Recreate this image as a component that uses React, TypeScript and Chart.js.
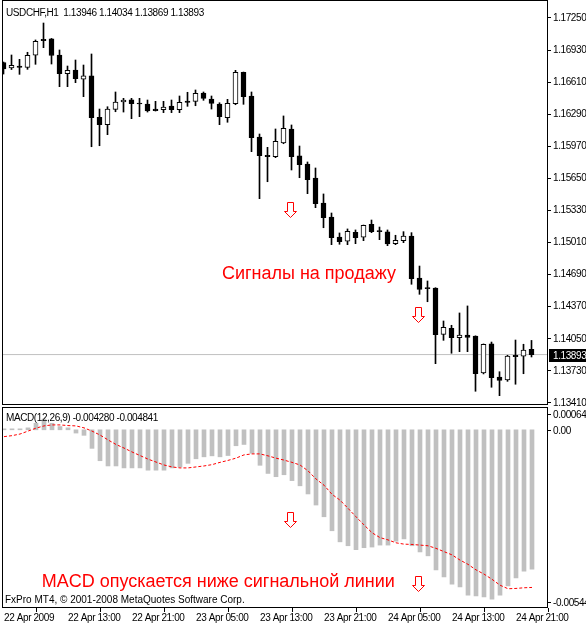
import React, { useEffect, useRef } from 'react';
import { Chart, registerables } from 'chart.js';

Chart.register(...registerables);

// ---------- DATA ----------
const symbolTitle = 'USDCHF,H1  1.13946 1.14034 1.13869 1.13893';
const macdTitle = 'MACD(12,26,9) -0.004280 -0.004841';
const copyright = 'FxPro MT4, \u00a9 2001-2008 MetaQuotes Software Corp.';
const sellText = 'Сигналы на продажу';
const macdText = 'MACD опускается ниже сигнальной линии';

const opens = [1.16806,1.16751,1.16771,1.16758,1.16878,1.17038,1.17041,1.16881,1.16694,1.16731,1.16639,1.16672,1.16260,1.16186,1.16339,1.16412,1.16435,1.16399,1.16392,1.16342,1.16335,1.16372,1.16335,1.16422,1.16419,1.16502,1.16442,1.16392,1.16256,1.16395,1.16708,1.16472,1.16063,1.15881,1.15867,1.16003,1.16143,1.15874,1.15794,1.15654,1.15405,1.15265,1.15066,1.15023,1.15113,1.15063,1.15192,1.15129,1.15116,1.14999,1.15029,1.15076,1.14657,1.14557,1.14557,1.14095,1.14155,1.14061,1.14088,1.14078,1.13709,1.13999,1.13669,1.13639,1.13886,1.13876,1.13946];
const highs = [1.16811,1.16881,1.16838,1.16908,1.17031,1.17200,1.17046,1.16931,1.16771,1.16831,1.16781,1.16891,1.16342,1.16365,1.16512,1.16449,1.16449,1.16449,1.16432,1.16419,1.16419,1.16432,1.16472,1.16509,1.16532,1.16512,1.16472,1.16405,1.16439,1.16728,1.16711,1.16512,1.16093,1.15960,1.16143,1.16273,1.16183,1.15973,1.15814,1.15754,1.15495,1.15305,1.15106,1.15146,1.15136,1.15185,1.15235,1.15165,1.15136,1.15083,1.15119,1.15109,1.14776,1.14627,1.14560,1.14228,1.14185,1.14308,1.14378,1.14080,1.13999,1.14018,1.13722,1.13886,1.14038,1.13996,1.14034];
const lows = [1.16691,1.16736,1.16688,1.16738,1.16788,1.16954,1.16791,1.16565,1.16565,1.16605,1.16465,1.15966,1.15976,1.16086,1.16315,1.16312,1.16246,1.16266,1.16312,1.16322,1.16306,1.16306,1.16306,1.16369,1.16375,1.16429,1.16342,1.16186,1.16210,1.16385,1.16389,1.15917,1.15448,1.15617,1.15857,1.15996,1.15734,1.15657,1.15498,1.15358,1.15158,1.14989,1.14993,1.14989,1.14999,1.15029,1.15109,1.15039,1.14979,1.14989,1.15009,1.14594,1.14494,1.14420,1.13802,1.14035,1.13906,1.13922,1.13922,1.13527,1.13700,1.13567,1.13483,1.13626,1.13597,1.13702,1.13869];
const closes = [1.16741,1.16778,1.16758,1.16878,1.17018,1.17024,1.16876,1.16694,1.16728,1.16645,1.16672,1.16256,1.16186,1.16342,1.16412,1.16432,1.16395,1.16392,1.16322,1.16325,1.16362,1.16335,1.16409,1.16409,1.16499,1.16449,1.16399,1.16266,1.16399,1.16708,1.16465,1.16056,1.15877,1.15867,1.16020,1.16150,1.15867,1.15787,1.15637,1.15398,1.15258,1.15059,1.15019,1.15123,1.15059,1.15182,1.15119,1.15119,1.14996,1.15033,1.15076,1.14650,1.14544,1.14550,1.14091,1.14165,1.14061,1.14088,1.14065,1.13702,1.13996,1.13662,1.13636,1.13879,1.13872,1.13939,1.13893];

const macdMain = [0.00003,0.00003,0.00003,0.00006,0.0002,0.00033,0.0002,0.0001,0.00006,-0.0001,-0.00017,-0.00057,-0.00095,-0.00111,-0.00111,-0.00117,-0.00117,-0.00117,-0.00124,-0.00124,-0.00124,-0.00117,-0.00114,-0.00103,-0.00089,-0.00083,-0.0008,-0.00083,-0.00079,-0.00049,-0.00045,-0.00072,-0.00109,-0.00134,-0.00144,-0.00138,-0.00156,-0.00172,-0.00197,-0.00231,-0.00267,-0.0031,-0.00344,-0.00356,-0.00368,-0.00362,-0.0036,-0.00354,-0.00354,-0.00342,-0.00335,-0.00356,-0.00375,-0.00387,-0.0043,-0.00452,-0.00474,-0.00482,-0.00508,-0.0051,-0.00513,-0.0052,-0.00508,-0.00479,-0.00455,-0.00434,-0.00428];
const macdSignal = [-0.00021,-0.00018,-0.00013,-0.00004,0.00005,0.00012,0.00015,0.00015,0.00013,0.00012,0.00006,-0.00004,-0.00016,-0.00031,-0.00045,-0.00056,-0.00068,-0.00079,-0.0009,-0.00099,-0.00108,-0.00114,-0.00117,-0.00117,-0.00114,-0.00111,-0.00107,-0.001,-0.00094,-0.00087,-0.00077,-0.00074,-0.00074,-0.0008,-0.00087,-0.00093,-0.001,-0.00108,-0.00126,-0.00151,-0.0017,-0.00198,-0.00216,-0.00241,-0.00267,-0.00292,-0.00316,-0.00331,-0.00338,-0.00347,-0.00351,-0.00352,-0.00354,-0.00356,-0.00364,-0.00374,-0.00384,-0.004,-0.00413,-0.0043,-0.00443,-0.00459,-0.00477,-0.00488,-0.00487,-0.00485,-0.00484];

const priceTicks = [1.13410,1.13730,1.14050,1.14370,1.14690,1.15010,1.15330,1.15650,1.15970,1.16290,1.16610,1.16930,1.17250];
const macdTickValues = [0.00064, 0, -0.00544];
const macdTickLabels = ['0.000640', '0.00', '-0.005440'];
const timeTickBars = [0, 8, 16, 24, 32, 40, 48, 56, 64];
const timeLabels = ['22 Apr 2009','22 Apr 13:00','22 Apr 21:00','23 Apr 05:00','23 Apr 13:00','23 Apr 21:00','24 Apr 05:00','24 Apr 13:00','24 Apr 21:00'];

const arrowBars = [35.8, 51.8];
const arrowPriceTops = [1.15418, 1.14365];
const arrowMacdTops = [-0.00251, -0.00448];
const sellTextBar = 27.3;
const sellTextPrice = 1.14647;
const macdTextBar = 4.71;
const macdTextValue = -0.00482;

// ---------- STYLE ----------
const FONT = "'Liberation Sans', Arial, sans-serif";
const RED_FONT = "18px 'Liberation Sans', Arial, sans-serif";
const SMALL = `10px ${FONT}`;
const TIGHT = '-0.4px';

const spacingPlugin = {
  id: 'tightText',
  beforeInit(chart: any) { chart.ctx.letterSpacing = TIGHT; },
  beforeUpdate(chart: any) { chart.ctx.letterSpacing = TIGHT; },
  beforeLayout(chart: any) { chart.ctx.letterSpacing = TIGHT; },
  beforeDraw(chart: any) { chart.ctx.letterSpacing = TIGHT; },
};

function drawArrow(ctx: CanvasRenderingContext2D, cx: number, top: number) {
  const x = Math.round(cx) + 0.5;
  const t = Math.round(top) + 0.5;
  ctx.save();
  ctx.beginPath();
  ctx.moveTo(x - 3, t);
  ctx.lineTo(x + 3, t);
  ctx.lineTo(x + 3, t + 9);
  ctx.lineTo(x + 6, t + 9);
  ctx.lineTo(x, t + 15);
  ctx.lineTo(x - 6, t + 9);
  ctx.lineTo(x - 3, t + 9);
  ctx.closePath();
  ctx.fillStyle = '#ffffff';
  ctx.fill();
  ctx.strokeStyle = '#ff0000';
  ctx.lineWidth = 1;
  ctx.stroke();
  ctx.restore();
}

function drawFrame(chart: any) {
  const { ctx, chartArea: a } = chart;
  ctx.save();
  ctx.strokeStyle = '#000000';
  ctx.lineWidth = 1;
  ctx.strokeRect(a.left + 0.5, a.top + 0.5, a.right - a.left - 1, a.bottom - a.top - 1);
  ctx.restore();
}

const mainPlugin = {
  id: 'mainDecor',
  afterDraw(chart: any) {
    const { ctx, chartArea: a, scales } = chart;
    drawFrame(chart);
    ctx.save();
    ctx.letterSpacing = TIGHT;
    ctx.fillStyle = '#000000';
    ctx.font = SMALL;
    ctx.textBaseline = 'alphabetic';
    ctx.textAlign = 'left';
    ctx.fillText(symbolTitle, a.left + 4, a.top + 16);

    ctx.letterSpacing = '0px';
    ctx.fillStyle = '#ff0000';
    ctx.font = RED_FONT;
    ctx.fillText(sellText, scales.x.getPixelForValue(sellTextBar), scales.y.getPixelForValue(sellTextPrice));
    ctx.restore();

    arrowBars.forEach((b, i) => drawArrow(ctx, scales.x.getPixelForValue(b), scales.y.getPixelForValue(arrowPriceTops[i])));

    // current price box
    const last = closes[closes.length - 1];
    const py = Math.round(scales.y.getPixelForValue(last));
    ctx.save();
    ctx.letterSpacing = TIGHT;
    ctx.fillStyle = '#000000';
    ctx.fillRect(a.right + 1, py - 6, 40, 13);
    ctx.fillStyle = '#ffffff';
    ctx.font = SMALL;
    ctx.textBaseline = 'middle';
    ctx.textAlign = 'left';
    ctx.fillText(last.toFixed(5), a.right + 5, py + 1);
    ctx.restore();
  },
};

const macdPlugin = {
  id: 'macdDecor',
  afterDraw(chart: any) {
    const { ctx, chartArea: a, scales } = chart;
    drawFrame(chart);
    ctx.save();
    ctx.letterSpacing = TIGHT;
    ctx.fillStyle = '#000000';
    ctx.font = SMALL;
    ctx.textAlign = 'left';
    ctx.textBaseline = 'alphabetic';
    ctx.fillText(macdTitle, a.left + 4, a.top + 14);
    ctx.letterSpacing = '0px';
    ctx.fillText(copyright, a.left + 3, a.bottom - 5);
    ctx.letterSpacing = TIGHT;

    // right axis labels (clamped inside the panel like MT4)
    ctx.textBaseline = 'middle';
    macdTickValues.forEach((v, i) => {
      let p = scales.y.getPixelForValue(v);
      p = Math.max(a.top + 7, Math.min(a.bottom - 6, p));
      p = Math.round(p);
      ctx.fillStyle = '#000000';
      ctx.fillRect(a.right, p, 3, 1);
      ctx.fillText(macdTickLabels[i], a.right + 5, p + 1);
    });

    ctx.letterSpacing = '0px';
    ctx.fillStyle = '#ff0000';
    ctx.font = RED_FONT;
    ctx.textBaseline = 'alphabetic';
    ctx.fillText(macdText, scales.x.getPixelForValue(macdTextBar), scales.y.getPixelForValue(macdTextValue));
    ctx.restore();

    arrowBars.forEach((b, i) => drawArrow(ctx, scales.x.getPixelForValue(b), scales.y.getPixelForValue(arrowMacdTops[i])));
  },
};

const W = 586;
const AXIS_W = 38;
const PX_PER_BAR = 8;

export default function App() {
  const mainRef = useRef<HTMLCanvasElement | null>(null);
  const macdRef = useRef<HTMLCanvasElement | null>(null);

  useEffect(() => {
    const idx = opens.map((_, i) => i);
    const plotW = W - AXIS_W - 2;
    const mainMin = -0.1875;
    const macdMin = -0.25;

    const main = new Chart(mainRef.current as HTMLCanvasElement, {
      type: 'bar',
      data: {
        datasets: [
          {
            type: 'line',
            data: [
              { x: mainMin, y: closes[closes.length - 1] },
              { x: mainMin + plotW / PX_PER_BAR, y: closes[closes.length - 1] },
            ],
            borderColor: '#c0c0c0',
            borderWidth: 1,
            pointRadius: 0,
            order: 3,
          } as any,
          {
            data: idx.map((i) => ({ x: i, y: [lows[i], highs[i]] })),
            backgroundColor: '#000000',
            borderWidth: 0,
            barThickness: 1,
            grouped: false,
            order: 2,
          } as any,
          {
            data: idx.map((i) => ({ x: i, y: [opens[i], closes[i]] })),
            backgroundColor: idx.map((i) => (closes[i] >= opens[i] ? '#ffffff' : '#000000')),
            borderColor: '#000000',
            borderWidth: 1,
            borderSkipped: false,
            barThickness: 5,
            minBarLength: 1,
            grouped: false,
            order: 1,
          } as any,
        ],
      },
      options: {
        animation: false,
        responsive: false,
        devicePixelRatio: 1,
        layout: { padding: { left: 2, top: 0, right: 0, bottom: 1 } },
        plugins: { legend: { display: false }, tooltip: { enabled: false } },
        scales: {
          x: {
            type: 'linear',
            min: mainMin,
            max: mainMin + plotW / PX_PER_BAR,
            offset: false,
            display: false,
          },
          y: {
            position: 'right',
            min: 1.1339,
            max: 1.174295,
            beginAtZero: false,
            afterFit: (s: any) => { s.width = AXIS_W; s.paddingTop = 0; s.paddingBottom = 0; },
            afterBuildTicks: (s: any) => { s.ticks = priceTicks.map((v) => ({ value: v })); },
            border: { display: false },
            grid: { drawOnChartArea: false, drawTicks: true, tickLength: 3, color: '#000000' },
            ticks: {
              color: '#000000',
              padding: 2,
              font: { family: FONT, size: 10 },
              callback: (v: any) => Number(v).toFixed(5),
            },
          },
        },
      } as any,
      plugins: [spacingPlugin, mainPlugin],
    });

    const macd = new Chart(macdRef.current as HTMLCanvasElement, {
      type: 'bar',
      data: {
        datasets: [
          {
            type: 'line',
            data: idx.map((i) => ({ x: i, y: macdSignal[i] })),
            borderColor: '#ff0000',
            borderWidth: 1,
            borderDash: [3, 2],
            pointRadius: 0,
            tension: 0,
            order: 0,
          } as any,
          {
            data: idx.map((i) => ({ x: i, y: macdMain[i] })),
            backgroundColor: '#c0c0c0',
            borderWidth: 0,
            barThickness: 4,
            grouped: false,
            order: 1,
          } as any,
        ],
      },
      options: {
        animation: false,
        responsive: false,
        devicePixelRatio: 1,
        layout: { padding: { left: 2, top: 1, right: AXIS_W, bottom: 0 } },
        plugins: { legend: { display: false }, tooltip: { enabled: false } },
        scales: {
          x: {
            type: 'linear',
            min: macdMin,
            max: macdMin + plotW / PX_PER_BAR,
            offset: false,
            afterFit: (s: any) => { s.height = 17; s.paddingLeft = 0; s.paddingRight = 0; },
            afterBuildTicks: (s: any) => { s.ticks = timeTickBars.map((v) => ({ value: v })); },
            border: { display: false },
            grid: { drawOnChartArea: false, drawTicks: true, tickLength: 4, color: '#000000' },
            ticks: {
              autoSkip: false,
              maxRotation: 0,
              align: 'start',
              padding: 0,
              color: '#000000',
              font: { family: FONT, size: 10 },
              callback: (_v: any, i: number) => timeLabels[i],
            },
          },
          y: {
            display: false,
            min: -0.005471,
            max: 0.0007,
            beginAtZero: false,
          },
        },
      } as any,
      plugins: [spacingPlugin, macdPlugin],
    });

    return () => {
      main.destroy();
      macd.destroy();
    };
  }, []);

  return (
    <div style={{ position: 'absolute', left: 0, top: 0, width: W, height: 625, background: '#ffffff' }}>
      <canvas ref={mainRef} width={W} height={406} style={{ position: 'absolute', left: 0, top: 0, width: W, height: 406 }} />
      <canvas ref={macdRef} width={W} height={219} style={{ position: 'absolute', left: 0, top: 406, width: W, height: 219 }} />
    </div>
  );
}
